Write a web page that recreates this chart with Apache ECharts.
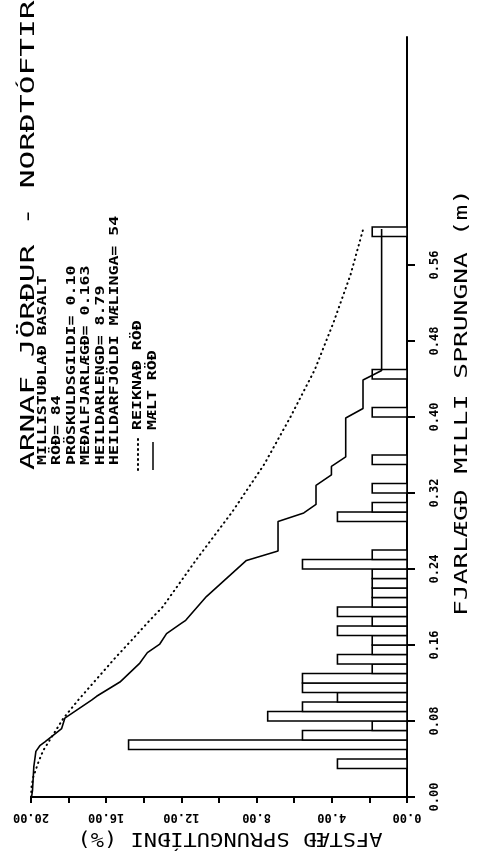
<!DOCTYPE html>
<html><head><meta charset="utf-8">
<script src="https://cdn.jsdelivr.net/npm/echarts@6/dist/echarts.min.js"></script>
<style>html,body{margin:0;padding:0;background:#fff}#c{width:478px;height:860px}</style>
</head><body><div id="c"></div>
<script>
// Histogram classes (distance between fractures, m) and relative frequency (%)
const binLow  = [0.03,0.05,0.06,0.07,0.08,0.09,0.10,0.11,0.12,0.13,0.14,0.15,0.16,0.17,0.18,0.19,0.20,0.21,0.22,0.23,0.24,0.25,0.29,0.30,0.32,0.35,0.40,0.44,0.59];
const binHigh = [0.04,0.06,0.07,0.08,0.09,0.10,0.11,0.12,0.13,0.14,0.15,0.16,0.17,0.18,0.19,0.20,0.21,0.22,0.23,0.24,0.25,0.26,0.30,0.31,0.33,0.36,0.41,0.45,0.60];
const freqPct = [3.70,14.81,5.56,1.85,7.41,5.56,3.70,5.56,5.56,1.85,3.70,1.85,1.85,3.70,1.85,3.70,1.85,1.85,1.85,1.85,5.56,1.85,3.70,1.85,1.85,1.85,1.85,1.85,1.85];

// Measured series (MÆLT RÖÐ)
const measuredDist = [0.000,0.007,0.032,0.048,0.054,0.058,0.072,0.083,0.102,0.106,0.121,0.141,0.152,0.161,0.172,0.183,0.186,0.211,0.249,0.259,0.290,0.299,0.308,0.328,0.339,0.348,0.358,0.399,0.409,0.439,0.444,0.449,0.598];
const measuredPct  = [19.97,19.92,19.85,19.74,19.53,19.26,18.37,18.20,16.78,16.51,15.27,14.21,13.81,13.15,12.79,11.99,11.77,10.67,8.54,6.86,6.86,5.49,4.84,4.84,4.02,4.02,3.26,3.26,2.34,2.34,1.84,1.35,1.35];

// Calculated series (REIKNAÐ RÖÐ)
const calcDist = [0.000,0.011,0.021,0.037,0.049,0.060,0.083,0.102,0.146,0.165,0.186,0.200,0.250,0.300,0.350,0.400,0.450,0.500,0.550,0.600];
const calcPct  = [20.00,19.97,19.88,19.60,19.35,19.00,18.27,17.49,15.54,14.65,13.68,13.00,11.20,9.30,7.60,6.20,4.90,3.90,3.00,2.30];

// Tick labels
const pctLabels = [0,4,8,12,16,20];
const distTicks = [0,0.08,0.16,0.24,0.32,0.40,0.48,0.56];

// Texts
const titleText = 'ARNAF JÖRÐUR - NORÐTÓFTIR';
const infoLines = ['MILLISTUÐLAÐ BASALT','RÖÐ= 84','ÞRÖSKULDSGILDI= 0.10','MEÐALFJARLÆGÐ= 0.163','HEILDARLENGD= 8.79','HEILDARFJÖLDI MÆLINGA= 54'];
const legendCalc = 'REIKNAÐ RÖÐ';
const legendMeas = 'MÆLT RÖÐ';
const xName = 'AFSTÆÐ SPRUNGUTÍÐNI (%)';
const yName = 'FJARLÆGÐ MILLI SPRUNGNA (m)';

const MONO = 'DejaVu Sans Mono';
const chart = echarts.init(document.getElementById('c'), null, {renderer:'canvas'});

function vtext(x, y, text, size, weight, sx) {
  return {type:'text', x:x, y:y, rotation:Math.PI/2, scaleX:sx, z:100,
    style:{text:text, fontFamily:MONO, fontSize:size, fontWeight:weight, fill:'#000',
      align:'left', verticalAlign:'middle', textAlign:'left', textVerticalAlign:'middle'}};
}
const infoX = [43,57,71.5,86,100.5,115];
const graphics = [vtext(29, 470, titleText, 20, 'normal', 1.56)];
infoLines.forEach((t,i)=>graphics.push(vtext(infoX[i], 465, t, 12, 'bold', 1.38)));
graphics.push(vtext(138, 430, legendCalc, 12, 'bold', 1.38));
graphics.push(vtext(153, 430, legendMeas, 12, 'bold', 1.38));
graphics.push({type:'line', shape:{x1:138,y1:470,x2:138,y2:436}, style:{stroke:'#000', lineWidth:2, lineDash:[1,4], lineCap:'round'}});
graphics.push({type:'line', shape:{x1:153,y1:470,x2:153,y2:442}, style:{stroke:'#000', lineWidth:1.5}});
graphics.push(vtext(462, 616, yName, 18, 'normal', 1.46));
graphics.push({type:'text', x:230, y:838, rotation:Math.PI, scaleX:1.16, z:100,
  style:{text:xName, fontFamily:MONO, fontSize:19, fill:'#000', align:'center', verticalAlign:'middle', textAlign:'center', textVerticalAlign:'middle'}});

const barData = freqPct.map((v,i)=>[v, binLow[i], binHigh[i]]);

chart.setOption({
  animation:false,
  backgroundColor:'#fff',
  grid:{left:31, right:71, top:37, bottom:63, containLabel:false},
  xAxis:{type:'value', min:0, max:20, interval:2, inverse:true, position:'bottom',
    axisLine:{show:true, onZero:false, lineStyle:{color:'#000', width:2}},
    axisTick:{show:true, inside:false, length:6, lineStyle:{color:'#000', width:2}},
    axisLabel:{show:true, rotate:180, margin:14, fontFamily:MONO, fontWeight:'bold', fontSize:12, color:'#000',
      formatter:(v)=> pctLabels.indexOf(Math.round(v*100)/100) >= 0 ? v.toFixed(2) : ''},
    splitLine:{show:false}},
  yAxis:{type:'value', min:0, max:0.8, position:'right',
    axisLine:{show:true, onZero:false, lineStyle:{color:'#000', width:2}},
    axisTick:{show:true, inside:false, length:8, customValues:distTicks, lineStyle:{color:'#000', width:2}},
    axisLabel:{show:true, customValues:distTicks, rotate:90, margin:22, fontFamily:MONO, fontWeight:'bold', fontSize:12, color:'#000',
      formatter:(v)=>v.toFixed(2)},
    splitLine:{show:false}},
  graphic:graphics,
  series:[
    {type:'custom', name:'Tíðni', data:barData, encode:{x:0, y:[1,2]}, z:2,
      renderItem:function(params, api){
        const v = api.value(0), lo = api.value(1), hi = api.value(2);
        const p0 = api.coord([0, lo]);
        const p1 = api.coord([v, hi]);
        return {type:'rect', shape:{x:Math.min(p0[0],p1[0]), y:Math.min(p0[1],p1[1]), width:Math.abs(p1[0]-p0[0]), height:Math.abs(p1[1]-p0[1])},
          style:{fill:'#fff', stroke:'#000', lineWidth:1.6}};
      }},
    {type:'line', name:legendCalc, data:calcPct.map((v,i)=>[v, calcDist[i]]), showSymbol:false, z:3,
      lineStyle:{color:'#000', width:2, type:[0.5,4.5], cap:'round'}},
    {type:'line', name:legendMeas, data:measuredPct.map((v,i)=>[v, measuredDist[i]]), showSymbol:false, z:4,
      lineStyle:{color:'#000', width:1.6}}
  ]
});
</script>
</body></html>
